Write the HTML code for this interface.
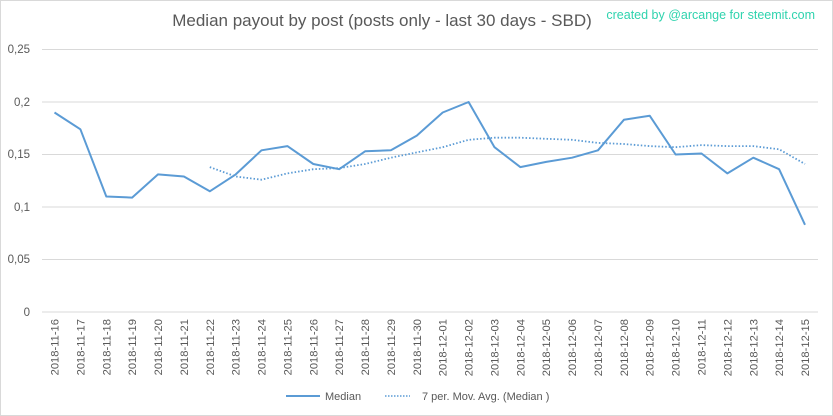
<!DOCTYPE html>
<html><head><meta charset="utf-8"><style>
html,body{margin:0;padding:0;background:#fff;}
svg{display:block;font-family:"Liberation Sans",sans-serif;}
</style></head><body>
<svg width="833" height="416" viewBox="0 0 833 416" xmlns="http://www.w3.org/2000/svg">
<rect x="0.5" y="0.5" width="832" height="415" fill="#fff" stroke="#d9d9d9"/>
<text x="382" y="26" text-anchor="middle" font-size="17" fill="#595959">Median payout by post (posts only - last 30 days - SBD)</text>
<text x="815" y="19" text-anchor="end" font-size="12.5" fill="#2fd3ae">created by @arcange for steemit.com</text>
<g stroke="#d9d9d9" stroke-width="1">
<line x1="42" x2="818" y1="49.5" y2="49.5"/>
<line x1="42" x2="818" y1="102" y2="102"/>
<line x1="42" x2="818" y1="154.5" y2="154.5"/>
<line x1="42" x2="818" y1="207" y2="207"/>
<line x1="42" x2="818" y1="259.5" y2="259.5"/>
<line x1="42" x2="818" y1="312" y2="312"/>
</g>
<g font-size="11.5" fill="#595959" text-anchor="end">
<text x="30" y="53">0,25</text><text x="30" y="106">0,2</text><text x="30" y="158">0,15</text>
<text x="30" y="211">0,1</text><text x="30" y="263">0,05</text><text x="30" y="316">0</text>
</g>
<g id="lbl" font-size="11.2" fill="#595959" text-anchor="end"></g>
<polyline id="med" fill="none" stroke="#5b9bd5" stroke-width="2" stroke-linejoin="round"/>
<polyline id="ma" fill="none" stroke="#5b9bd5" stroke-width="1.8" stroke-dasharray="1.5,2"/>
<line x1="286" x2="320" y1="396" y2="396" stroke="#5b9bd5" stroke-width="2"/>
<text x="325" y="400" font-size="11" fill="#595959">Median</text>
<line x1="385" x2="410" y1="396" y2="396" stroke="#5b9bd5" stroke-width="1.5" stroke-dasharray="1.5,1.5"/>
<text x="422" y="400" font-size="11" fill="#595959">7 per. Mov. Avg. (Median )</text>
<script>
var med=[0.19,0.174,0.11,0.109,0.131,0.129,0.115,0.131,0.154,0.158,0.141,0.136,0.153,0.154,0.168,0.19,0.2,0.157,0.138,0.143,0.147,0.154,0.183,0.187,0.15,0.151,0.132,0.147,0.136,0.083];
var ma=[null,null,null,null,null,null,0.138,0.129,0.126,0.132,0.136,0.137,0.141,0.147,0.152,0.157,0.164,0.166,0.166,0.165,0.164,0.161,0.16,0.158,0.157,0.159,0.158,0.158,0.155,0.141];
function X(i){return 54.5+i*25.88;}function Y(v){return 312-v*1050;}
var a=[],b=[];
med.forEach(function(v,i){a.push(X(i).toFixed(1)+","+Y(v).toFixed(1));});
ma.forEach(function(v,i){if(v!=null)b.push(X(i).toFixed(1)+","+Y(v).toFixed(1));});
document.getElementById("med").setAttribute("points",a.join(" "));
document.getElementById("ma").setAttribute("points",b.join(" "));
var g=document.getElementById("lbl"),ns="http://www.w3.org/2000/svg";
var d=new Date(Date.UTC(2018,10,16));
for(var i=0;i<30;i++){var t=document.createElementNS(ns,"text");
var s=d.toISOString().slice(0,10);t.textContent=s;
var x=X(i)+4;t.setAttribute("transform","translate("+x+",319) rotate(-90)");g.appendChild(t);d.setUTCDate(d.getUTCDate()+1);}
</script>
</svg>
</body></html>
